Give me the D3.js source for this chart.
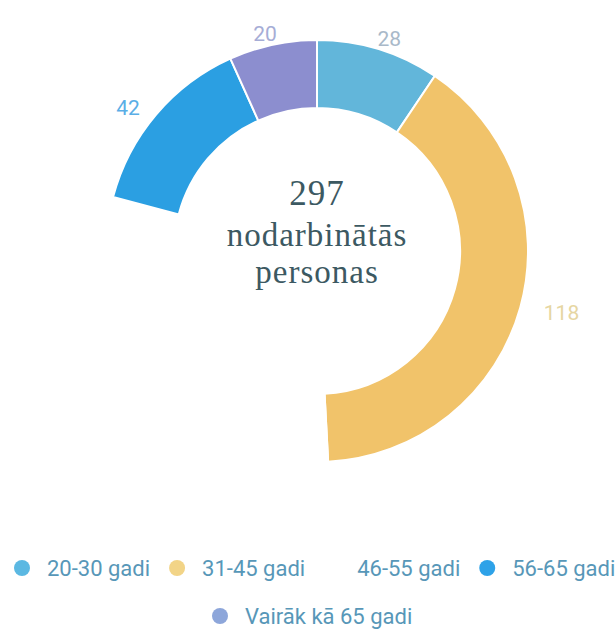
<!DOCTYPE html>
<html>
<head>
<meta charset="utf-8">
<script src="https://cdn.jsdelivr.net/npm/d3@7"></script>
<style>
  body { margin: 0; background: #fff; }
  svg { display: block; }
</style>
</head>
<body>
<svg id="chart" width="615" height="630"></svg>
<script>
// data
var categories = ['20-30 gadi', '31-45 gadi', '46-55 gadi', '56-65 gadi', 'Vairāk kā 65 gadi'];
var values = [28, 118, 89, 42, 20];
var sliceColors = ['#62b6da', '#f1c36a', '#ffffff', '#2b9fe2', '#8c8ecf'];
var labelColors = ['#a9b9c9', '#e6d6a2', null, '#5aaee6', '#a6add6'];
var markerColors = ['#5bb8e2', '#f2d487', '#ffffff', '#2ea2e8', '#8da6da'];
var centerLines = ['297', 'nodarbinātās', 'personas'];

var svg = d3.select('#chart');
var cx = 317, cy = 251;
var outerR = 211, innerR = 143, labelR = 236;

var data = categories.map(function (c, i) {
    return {name: c, value: values[i], color: sliceColors[i], label: labelColors[i], marker: markerColors[i]};
});

var pie = d3.pie().sort(null).value(function (d) { return d.value; });
var arc = d3.arc().innerRadius(innerR).outerRadius(outerR);
var arcs = pie(data);

var g = svg.append('g').attr('transform', 'translate(' + cx + ',' + cy + ')');

g.selectAll('path.slice').data(arcs).enter().append('path')
    .attr('class', 'slice')
    .attr('d', arc)
    .attr('fill', function (d) { return d.data.color; })
    .attr('stroke', '#fff')
    .attr('stroke-width', 2);

// value labels outside the ring
g.selectAll('text.val').data(arcs.filter(function (d) { return d.data.label; })).enter().append('text')
    .attr('class', 'val')
    .attr('text-anchor', 'middle')
    .attr('dy', '0.35em')
    .style('font-family', 'Roboto, sans-serif')
    .style('font-size', '21px')
    .attr('fill', function (d) { return d.data.label; })
    .text(function (d) { return d.data.value; })
    .each(function (d) {
        var a = (d.startAngle + d.endAngle) / 2;
        var w = this.getComputedTextLength() / 2;
        var x = Math.sin(a) * labelR + Math.sin(a) * w;
        var y = -Math.cos(a) * labelR * 0.95 + 2;
        d3.select(this).attr('x', x).attr('y', y);
    });

// centre text
var baselines = [-46, -5, 32];
g.selectAll('text.center').data(centerLines).enter().append('text')
    .attr('class', 'center')
    .attr('x', 0)
    .attr('y', function (d, i) { return baselines[i]; })
    .attr('text-anchor', 'middle')
    .style('font-family', '"Liberation Serif", "DejaVu Serif", serif')
    .style('font-size', function (d, i) { return i === 0 ? '35px' : '33px'; })
    .style('letter-spacing', '1px')
    .attr('fill', '#3c5962')
    .text(function (d) { return d; });

// legend
var rows = [[0, 1, 2, 3], [4]];
var rowY = [568, 616];
var rowStart = [22, 220];
rows.forEach(function (row, ri) {
    var x = rowStart[ri];
    row.forEach(function (idx) {
        var d = data[idx];
        var item = svg.append('g');
        item.append('circle')
            .attr('cx', x)
            .attr('cy', rowY[ri])
            .attr('r', 8)
            .attr('fill', d.marker);
        var t = item.append('text')
            .attr('x', x + 25)
            .attr('y', rowY[ri])
            .attr('dy', '0.36em')
            .style('font-family', 'Roboto, sans-serif')
            .style('font-size', '22px')
            .attr('fill', '#5797b8')
            .text(d.name);
        x = x + 25 + t.node().getComputedTextLength() + 27;
    });
});
</script>
</body>
</html>
